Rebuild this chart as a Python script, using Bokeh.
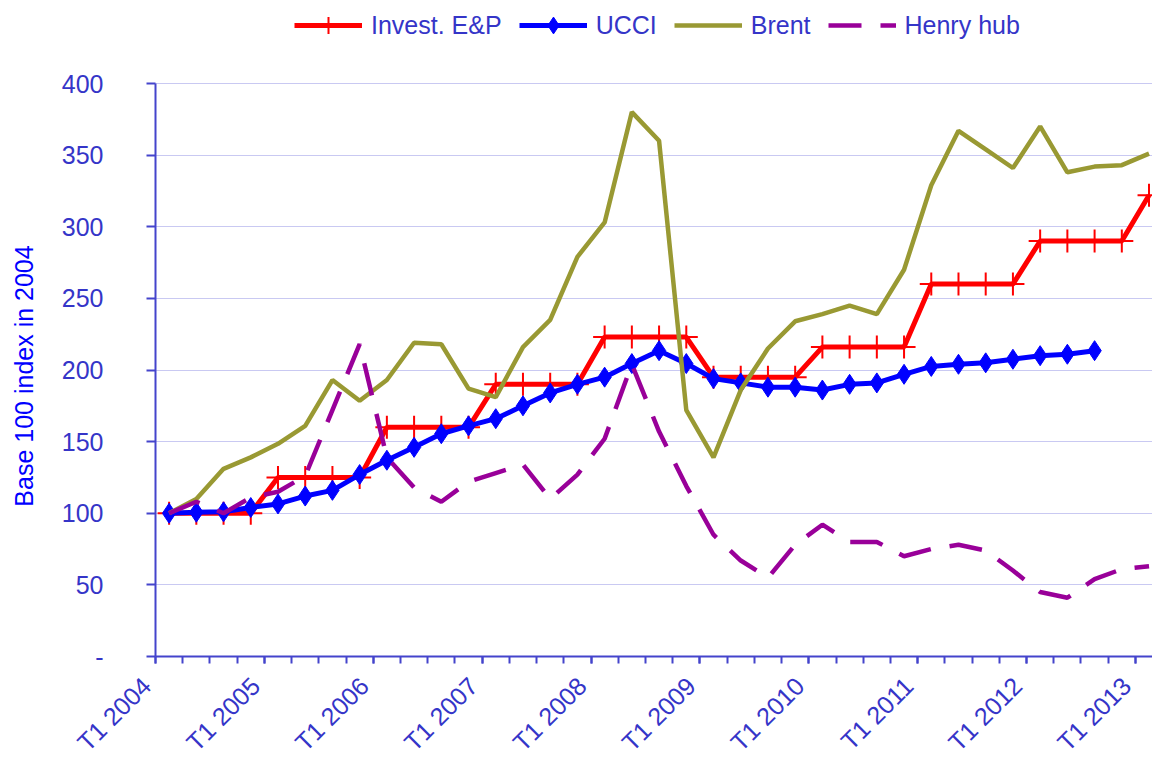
import math
from bokeh.plotting import figure
from bokeh.models import Legend, LegendItem, FixedTicker, Range1d
from bokeh.core.properties import value
from bokeh.embed import file_html
from bokeh.resources import INLINE

# ---- data ----
year_labels = ["T1 2004", "T1 2005", "T1 2006", "T1 2007", "T1 2008",
               "T1 2009", "T1 2010", "T1 2011", "T1 2012", "T1 2013"]
quarters_per_year = 4

invest = [100, 100, 100, 100, 125, 125, 125, 125, 160, 160, 160, 160,
          190, 190, 190, 190, 223, 223, 223, 223, 195, 195, 195, 195,
          216, 216, 216, 216, 260, 260, 260, 260, 290, 290, 290, 290, 322]
ucci = [100, 100.7, 101, 104, 106.5, 112, 116, 127, 137, 146, 155.5, 161,
        166, 175, 184, 190, 195, 204.5, 213.5, 204.5, 194, 191, 188, 188,
        186, 190, 191, 197, 202.5, 204, 205, 207.5, 210, 211, 213.5]
brent = [100, 110, 131, 139, 148.5, 161, 193, 178.5, 193, 219, 218, 187,
         181, 216, 235, 279, 303, 380, 360, 172, 139, 186, 215, 234,
         239, 245, 239, 270, 329, 367, 354, 341, 370, 338, 342, 343, 351]
henry = [100, 108, 100, 111, 115, 126, 172, 218, 139, 118, 108, 122,
         128, 134, 110, 127, 152, 204, 157, 119, 85, 67, 55, 78,
         92, 80, 80, 70, 75, 78, 74, 60, 45, 41, 54, 61, 63]
y_ticks = [0, 50, 100, 150, 200, 250, 300, 350, 400]
y_tick_labels = ["-", "50", "100", "150", "200", "250", "300", "350", "400"]
y_title = "Base 100 index in 2004"

n = len(invest)
xi = list(range(n))

AXIS = "#4444CC"
TXT = "#3535C8"
FONT = "Liberation Sans"

# ---- layout (pixels) ----
W, H = 1152, 758
LEFT = 155            # pixel column of the y axis
AXIS_Y = 656          # pixel row of value 0
TOP400 = 83           # pixel row of value 400
px_per_unit = (AXIS_Y - TOP400) / 400.0
y_top = AXIS_Y / px_per_unit
y_bot = -(H - AXIS_Y) / px_per_unit
q_px = 27.22
x0 = -0.5             # left edge of first category
x_start = x0 - LEFT / q_px
x_end = x0 + (W - LEFT) / q_px

p = figure(width=W, height=H, title=None,
           x_range=Range1d(x_start, x_end), y_range=Range1d(y_bot, y_top),
           output_backend="svg", toolbar_location=None,
           min_border_left=0, min_border_right=0,
           min_border_top=0, min_border_bottom=0)
p.outline_line_color = None
p.background_fill_color = "white"
p.border_fill_color = "white"
p.xgrid.visible = False
p.ygrid.grid_line_color = "#C9C9F2"
p.ygrid.grid_line_width = 1
p.ygrid.bounds = (0, 400)
p.ygrid.cross_bounds = (x0, x_end)

# series
r_inv_line = p.line(xi, invest, line_color="#FF0000", line_width=5)
r_inv_mk = p.scatter(xi, invest, marker="cross", size=23,
                     line_color="#FF0000", line_width=2)
xu = list(range(len(ucci)))
r_ucci_line = p.line(xu, ucci, line_color="#0000FF", line_width=5)
r_ucci_mk = p.scatter(xu, ucci, marker="diamond", size=20,
                      fill_color="#0000FF", line_color="#0000FF")
r_brent = p.line(xi, brent, line_color="#999933", line_width=4.5)
r_henry = p.line(xi, henry, line_color="#990099", line_width=4.5,
                 line_dash="33 19")

# x axis drawn at value 0, ticks between quarters
label_pos = [k * quarters_per_year + x0 for k in range(len(year_labels))]
xax = p.xaxis[0]
xax.fixed_location = 0
xax.bounds = (x0, x_end)
xax.ticker = FixedTicker(ticks=label_pos,
                         minor_ticks=[i + x0 for i in range(n)])
xax.major_label_overrides = {pos: "" for pos in label_pos}
xax.major_label_text_font_size = "0px"
xax.major_label_standoff = 0
xax.major_tick_out = 0
xax.major_tick_in = -7
xax.major_tick_line_color = AXIS
xax.major_tick_line_width = 2
xax.minor_tick_out = 0
xax.minor_tick_in = -7
xax.minor_tick_line_color = AXIS
xax.minor_tick_line_width = 2
xax.axis_line_color = AXIS
xax.axis_line_width = 2

# y axis drawn at the first category edge
yax = p.yaxis[0]
yax.fixed_location = x0
yax.bounds = (0, 400)
yax.ticker = FixedTicker(ticks=y_ticks)
yax.major_label_overrides = {t: "" for t in y_ticks}
yax.major_label_text_font_size = "0px"
yax.major_label_standoff = 0
yax.minor_tick_line_color = None
yax.major_tick_out = 0
yax.major_tick_in = -9
yax.major_tick_line_color = AXIS
yax.major_tick_line_width = 2
yax.axis_line_color = AXIS
yax.axis_line_width = 2

# axis texts
p.text(x=label_pos, y=[0] * len(label_pos), text=year_labels,
       angle=math.pi / 4, x_offset=-9, y_offset=25,
       text_align="right", text_baseline="middle",
       text_font=value(FONT), text_font_size="25px", text_color=TXT)
p.text(x=[x0] * len(y_ticks), y=y_ticks, text=y_tick_labels,
       x_offset=-52, text_align="right", text_baseline="middle",
       text_font=value(FONT), text_font_size="25px", text_color=TXT)
p.text(x=[x0], y=[(y_ticks[0] + y_ticks[-1]) / 2], text=[y_title],
       angle=math.pi / 2, x_offset=-(LEFT - 23), y_offset=6,
       text_align="center", text_baseline="middle",
       text_font=value(FONT), text_font_size="25px", text_color="#0000FF")

LEG_H = 42
legend = Legend(items=[
    LegendItem(label="Invest. E&P", renderers=[r_inv_line, r_inv_mk]),
    LegendItem(label="UCCI", renderers=[r_ucci_line, r_ucci_mk]),
    LegendItem(label="Brent", renderers=[r_brent]),
    LegendItem(label="Henry hub", renderers=[r_henry]),
], location=(294, H - 25 - LEG_H // 2), orientation="horizontal")
legend.border_line_color = None
legend.background_fill_alpha = 0
legend.padding = 0
legend.margin = 0
legend.spacing = 17
legend.glyph_width = 68
legend.glyph_height = LEG_H
legend.label_height = LEG_H
legend.label_standoff = 9
legend.label_text_font = FONT
legend.label_text_font_size = "25px"
legend.label_text_color = TXT
p.add_layout(legend)

open("out.html", "w").write(file_html(p, INLINE))
